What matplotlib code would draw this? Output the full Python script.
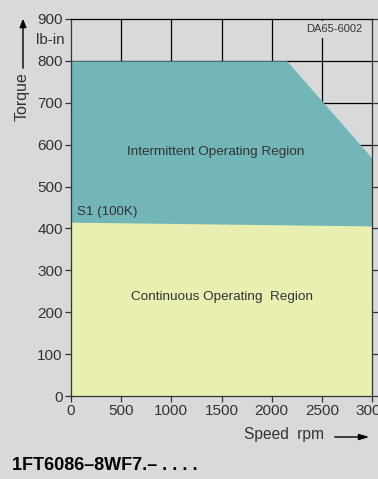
import matplotlib
matplotlib.use("Agg")
import matplotlib.pyplot as plt

plt.rcParams['font.family'] = ['Liberation Sans', 'DejaVu Sans']

# torque-speed curves (lb-in vs rpm)
speed_int = [0, 2150, 3000]
torque_int = [800, 800, 568]
speed_s1 = [0, 3000]
torque_s1 = [415, 406]

x_ticks = [0, 500, 1000, 1500, 2000, 2500, 3000]
y_ticks = [0, 100, 200, 300, 400, 500, 600, 700, 800, 900]

bg = '#d8d9db'
teal = '#72b6b7'
yellow = '#e8efb0'
dark = '#333333'

fig = plt.figure(figsize=(3.78, 4.79), dpi=100, facecolor=bg)
ax = fig.add_axes([71/378, 1 - 396/479, 301/378, 377/479])
ax.set_facecolor(bg)
ax.set_xlim(0, 3000)
ax.set_ylim(0, 900)

# grid (hidden under the filled regions)
for xv in x_ticks[1:-1]:
    ax.axvline(xv, color='black', lw=0.9, zorder=1)
for yv in y_ticks[1:-1]:
    ax.axhline(yv, color='black', lw=0.9, zorder=1)

ax.fill_between(speed_int, torque_int, 0, color=teal, lw=0, zorder=2)
ax.fill_between(speed_s1, torque_s1, 0, color=yellow, lw=0, zorder=3)

ax.set_xticks(x_ticks)
ax.set_yticks(y_ticks)
ax.tick_params(axis='both', direction='out', length=4, width=0.9, colors=dark,
               labelsize=11, pad=2)
ax.tick_params(axis='y', right=True)
for sp in ax.spines.values():
    sp.set_color(dark)
    sp.set_linewidth(0.9)
    sp.set_zorder(5)
ax.spines['top'].set_color('black')

ax.text(1445, 583, 'Intermittent Operating Region', ha='center', va='center',
        fontsize=9.7, color=dark, zorder=6)
ax.text(1505, 236, 'Continuous Operating  Region', ha='center', va='center',
        fontsize=9.7, color=dark, zorder=6)
ax.text(55, 440, 'S1 (100K)', ha='left', va='center', fontsize=9.6, color=dark, zorder=6)
ax.text(2905, 875, 'DA65-6002', ha='right', va='center', fontsize=8, color=dark,
        zorder=6, bbox=dict(facecolor=bg, edgecolor='none', pad=2.5))

# axis labels
fig.text(65/378, 1 - 40/479, 'lb-in', ha='right', va='center', fontsize=11, color=dark)
fig.text(22/378, 1 - 97/479, 'Torque', rotation=90, ha='center', va='center',
         fontsize=11.5, color=dark)
fig.add_artist(matplotlib.patches.FancyArrowPatch(
    (23/378, 1 - 71/479), (23/378, 1 - 16/479), transform=fig.transFigure,
    arrowstyle='-|>,head_length=5,head_width=2', color='black', lw=1))
fig.text(284/378, 1 - 435/479, 'Speed  rpm', ha='center', va='center',
         fontsize=11.2, color=dark)
fig.add_artist(matplotlib.patches.FancyArrowPatch(
    (332/378, 1 - 437/479), (372/378, 1 - 437/479), transform=fig.transFigure,
    arrowstyle='-|>,head_length=6,head_width=1.8', color='black', lw=1))

fig.text(12/378, 1 - 466/479, '1FT6086\u20138WF7.\u2013 . . . .', ha='left', va='center',
         fontsize=13, fontweight='bold', color='black')

fig.savefig('out.png', dpi=100, facecolor=bg)
